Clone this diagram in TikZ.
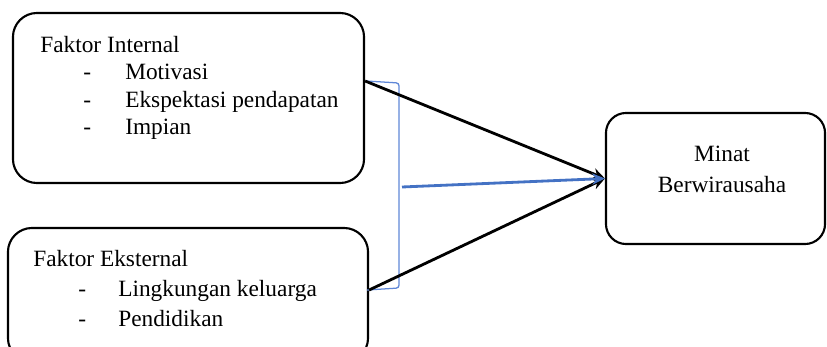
\documentclass[tikz,border=0pt]{standalone}
\usepackage{fontspec}
\setmainfont{Liberation Serif}
\usetikzlibrary{positioning,arrows.meta}
\definecolor{arrowblue}{RGB}{68,114,196}
\definecolor{bracketblue}{RGB}{95,135,215}

\begin{document}
\begin{tikzpicture}[x=0.025cm,y=-0.025cm,
  box/.style={draw,rounded corners=0.6cm,line width=1.5pt,inner sep=0pt},
  lbl/.style={anchor=base west,inner sep=0pt,font=\fontsize{16.6pt}{20pt}\selectfont},
  link/.style={line width=2pt,-{Stealth[length=9pt,width=8pt]}}]
  \useasboundingbox (0,0) rectangle (827,347);
  \clip (0,0) rectangle (827,347);

  % boxes
  \node[box,minimum width=8.775cm,minimum height=4.25cm] (int) at (188.5,98) {};
  \node[box,minimum width=9cm,minimum height=3.35cm] (ext) at (188,295) {};
  \node[box,rounded corners=0.5cm,minimum width=5.475cm,minimum height=3.275cm] (min) at (715.5,178.5) {};

  % texts
  \node[lbl] (intT) at (40,52.5) {Faktor Internal};
  \node[lbl] (int1) at (83,80) {\makebox[1.05cm][l]{-}Motivasi};
  \node[lbl] (int2) at (83,107.5) {\makebox[1.05cm][l]{-}Ekspektasi pendapatan};
  \node[lbl] (int3) at (83,135) {\makebox[1.05cm][l]{-}Impian};
  \node[lbl] (extT) at (33,266.7) {Faktor Eksternal};
  \node[lbl] (ext1) at (78,296.7) {\makebox[1cm][l]{-}Lingkungan keluarga};
  \node[lbl] (ext2) at (78,326.7) {\makebox[1cm][l]{-}Pendidikan};
  \node[lbl,anchor=base] (minA) at (722,161) {Minat};
  \node[lbl,anchor=base] (minB) at (722,192) {Berwirausaha};

  % bracket
  \coordinate (brkTop) at (366,81);
  \coordinate (brkBot) at (367,290);
  \coordinate (brk) at (402,187);
  \draw[bracketblue,line width=0.9pt,rounded corners=2pt] (brkTop) -- (399,83) -- (399,288) -- (brkBot);

  % arrows
  \draw[link] (int.east |- brkTop) -- (min.west);
  \draw[link] (ext.east |- brkBot) -- (min.west);
  \draw[link,arrowblue] (brk) -- (min.west);
\end{tikzpicture}
\end{document}
